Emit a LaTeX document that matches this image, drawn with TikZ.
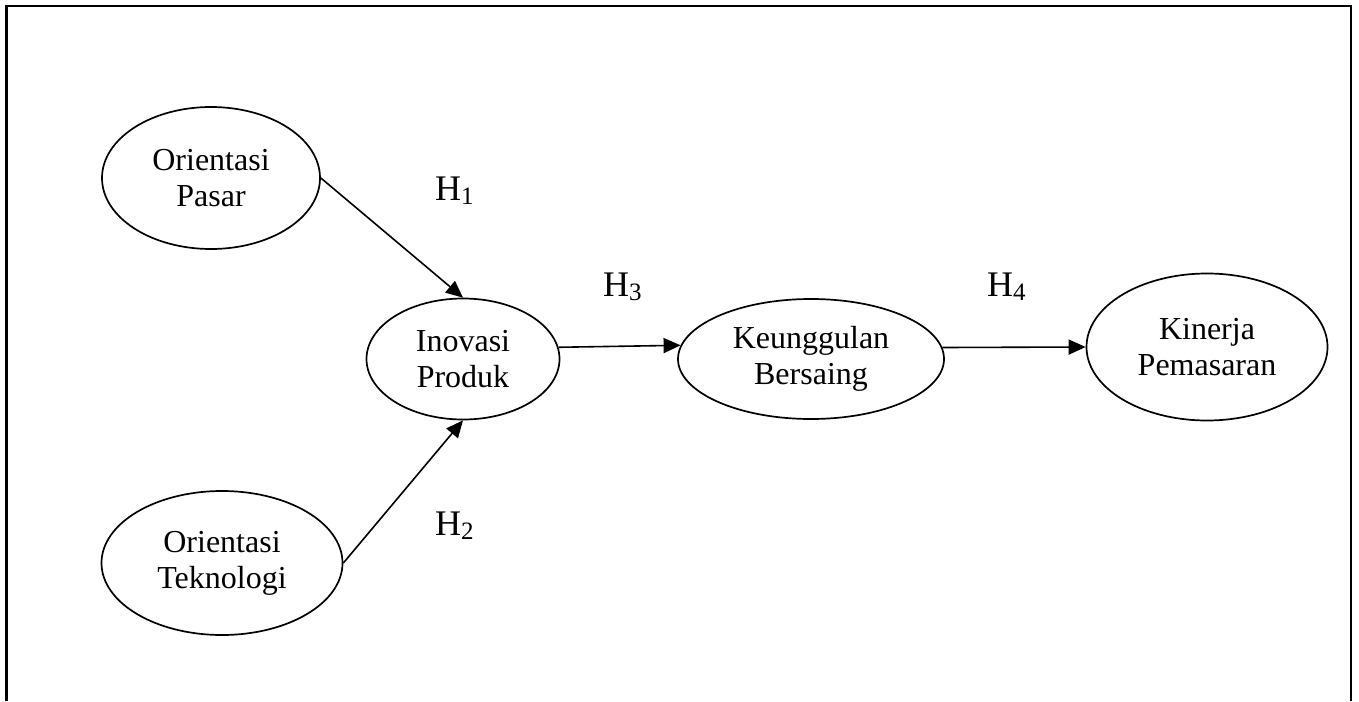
\documentclass[tikz,border=0pt]{standalone}
\usepackage{fontspec}
\setmainfont{Liberation Serif}
\usetikzlibrary{arrows.meta,shapes.geometric}

\newcommand{\hyp}[1]{H\raisebox{-4.5pt}{\fontsize{25}{25}\selectfont #1}}

\begin{document}
\begin{tikzpicture}[x=1pt,y=-1pt,
  var/.style={draw, ellipse, line width=1.7pt, inner sep=0pt,
    align=center, font=\fontsize{32}{36}\selectfont},
  path/.style={line width=1.6pt, -{Triangle[length=17pt,width=15pt]}},
  hlabel/.style={anchor=base west, inner sep=0pt, font=\fontsize{36}{40}\selectfont},
  frame/.style={line width=2.6pt}]
  \useasboundingbox (0,0) rectangle (1359,701);

  % open frame (no bottom edge)
  \draw[frame] (6.5,701) -- (6.5,6) -- (1351,6) -- (1351,701);

  % latent variables
  \node[var, minimum width=218pt, minimum height=142pt] (op)  at (211,178) {Orientasi\\Pasar};
  \node[var, minimum width=241pt, minimum height=144pt] (ot)  at (222,563) {Orientasi\\Teknologi};
  \node[var, minimum width=193pt, minimum height=121pt] (ip)  at (463,359) {Inovasi\\Produk};
  \node[var, minimum width=266pt, minimum height=120pt] (kb)  at (811,359) {Keunggulan\\Bersaing};
  \node[var, minimum width=241pt, minimum height=147pt] (kp)  at (1207,347) {Kinerja\\Pemasaran};

  % hypothesised paths
  \draw[path] (op.east)  -- (ip.north);
  \draw[path] (ot.east)  -- (ip.south);
  \draw[path] (ip.7)     -- (kb.174.7);
  \draw[path] (kb.5.3)   -- (kp.west);

  % hypothesis labels
  \node[hlabel] (h1) at (435,200) {\hyp{1}};
  \node[hlabel] (h2) at (435,535) {\hyp{2}};
  \node[hlabel] (h3) at (603,296) {\hyp{3}};
  \node[hlabel] (h4) at (987,296) {\hyp{4}};
\end{tikzpicture}
\end{document}
